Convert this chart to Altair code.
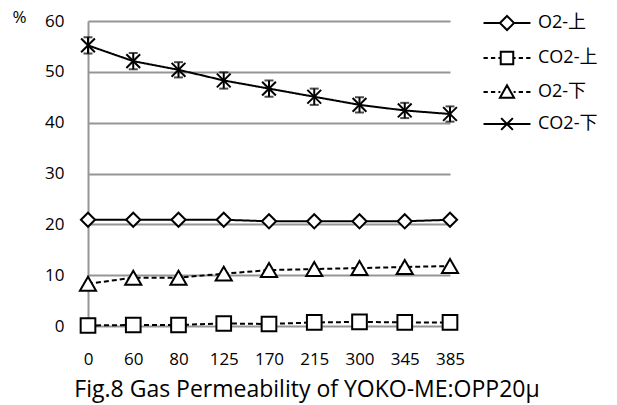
import altair as alt
import pandas as pd

times = ["0", "60", "80", "125", "170", "215", "300", "345", "385"]
o2_up = [20.9, 20.9, 20.9, 20.9, 20.6, 20.6, 20.6, 20.6, 20.9]
co2_up = [0.1, 0.2, 0.2, 0.5, 0.4, 0.7, 0.8, 0.7, 0.7]
o2_down = [8.3, 9.5, 9.5, 10.3, 11.0, 11.2, 11.4, 11.6, 11.8]
co2_down = [55.2, 52.1, 50.4, 48.3, 46.7, 45.1, 43.5, 42.4, 41.7]
co2_down_err = [1.6, 1.6, 1.5, 1.6, 1.6, 1.6, 1.5, 1.5, 1.5]

series_names = ["O2-上", "CO2-上", "O2-下", "CO2-下"]
series_values = [o2_up, co2_up, o2_down, co2_down]
series_dash = [[1, 0], [5, 3], [5, 3], [1, 0]]
series_shape = ["diamond", "square", "triangle-up", "M-1,-1L1,1M-1,1L1,-1"]
series_size = [200, 215, 260, 190]

rows = []
for name, vals in zip(series_names, series_values):
    for t, v in zip(times, vals):
        rows.append({"time": t, "series": name, "value": v})
df = pd.DataFrame(rows)
err_df = pd.DataFrame({"time": times, "value": co2_down,
                       "lo": [v - e for v, e in zip(co2_down, co2_down_err)],
                       "hi": [v + e for v, e in zip(co2_down, co2_down_err)]})

FONT = "Open Sans, Noto Sans CJK JP"
xenc = alt.X("time:N", sort=times, scale=alt.Scale(type="point", padding=0),
             axis=alt.Axis(title=None, domain=False, ticks=False, grid=False,
                           labelPadding=25, labelAngle=0))
yenc = alt.Y("value:Q", scale=alt.Scale(domain=[0, 60], nice=False),
             axis=alt.Axis(values=[0, 10, 20, 30, 40, 50, 60], title="%",
                           titleAngle=0, titleX=-69, titleY=-4, titleAlign="center",
                           titleBaseline="middle",
                           labelPadding=24, ticks=False,
                           domainColor="#959595", domainWidth=2,
                           gridColor="#959595", gridWidth=2))
xplain = alt.X("time:N", sort=times)
yplain = alt.Y("value:Q")

layers = []
for name, dash in zip(series_names, series_dash):
    sub = df[df.series == name]
    layers.append(alt.Chart(sub).mark_line(color="black", strokeWidth=2, strokeDash=dash)
                  .encode(x=xenc, y=yenc))

# error bars
layers.append(alt.Chart(err_df).mark_rule(color="black", strokeWidth=2)
              .encode(x=xplain, y=alt.Y("lo:Q"), y2="hi:Q"))
layers.append(alt.Chart(err_df).mark_tick(color="black", thickness=2, size=9, orient="horizontal")
              .encode(x=xplain, y=alt.Y("lo:Q")))
layers.append(alt.Chart(err_df).mark_tick(color="black", thickness=2, size=9, orient="horizontal")
              .encode(x=xplain, y=alt.Y("hi:Q")))

for name, shape, size in zip(series_names, series_shape, series_size):
    sub = df[df.series == name]
    layers.append(alt.Chart(sub).mark_point(shape=shape, size=size, filled=False,
                                            stroke="black", strokeWidth=2,
                                            fill="white", fillOpacity=1 if name != "CO2-下" else 0,
                                            opacity=1)
                  .encode(x=xplain, y=yplain))

# legend symbols: line + marker as a path spanning -3..3
solid = "M-3,0L-0.9,0M0.9,0L3,0"
dashed = "M-3,0L-2.45,0M-2.05,0L-1.5,0M-1.1,0L-0.85,0M0.85,0L1.1,0M1.5,0L2.05,0M2.45,0L3,0"
legend_paths = [
    solid + "M0,-0.9L0.9,0L0,0.9L-0.9,0Z",
    dashed + "M-0.8,-0.8L0.8,-0.8L0.8,0.8L-0.8,0.8Z",
    dashed + "M0,-0.85L0.9,0.75L-0.9,0.75Z",
    "M-3,0L3,0M-0.75,-0.75L0.75,0.75M-0.75,0.75L0.75,-0.75",
]
legend_layer = alt.Chart(df).transform_filter("false").mark_point(filled=False).encode(
    x=xplain, y=yplain,
    shape=alt.Shape("series:N",
                    scale=alt.Scale(domain=series_names, range=legend_paths),
                    legend=alt.Legend(title=None, orient="none", legendX=410, legendY=-7,
                                      padding=0, rowPadding=12, symbolSize=245,
                                      symbolStrokeColor="black", symbolFillColor="white",
                                      symbolStrokeWidth=2, symbolOpacity=1,
                                      labelOffset=22, labelLimit=200)))
layers.append(legend_layer)

chart = alt.layer(*layers).properties(
    width=362, height=305,
    autosize=alt.AutoSizeParams(type="none"),
    padding={"left": 88, "top": 21, "right": 167, "bottom": 79},
    title=alt.TitleParams("Fig.8 Gas Permeability of YOKO-ME:OPP20μ", orient="bottom",
                          anchor="middle", frame="group", dx=38, offset=12),
).configure_view(stroke=None).configure_point(opacity=1).configure_axis(
    labelFont=FONT, labelFontSize=17, labelColor="black",
    titleFont=FONT, titleFontSize=17, titleFontWeight="normal", titleColor="black",
).configure_legend(
    labelFont=FONT, labelFontSize=18, labelColor="black",
).configure_title(
    font=FONT, fontSize=23, fontWeight="normal", color="black",
)

chart.save("out.html", embed_options={"renderer": "svg", "actions": False})
